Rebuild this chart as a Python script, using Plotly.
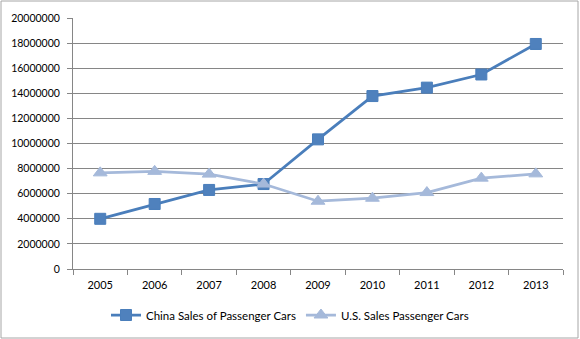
import plotly.graph_objects as go

years = ["2005", "2006", "2007", "2008", "2009", "2010", "2011", "2012", "2013"]
china_sales = [4000000, 5180000, 6300000, 6770000, 10330000, 13780000, 14450000, 15500000, 17930000]
us_sales = [7660000, 7780000, 7560000, 6770000, 5400000, 5640000, 6090000, 7240000, 7580000]
y_ticks = [0, 2000000, 4000000, 6000000, 8000000, 10000000, 12000000, 14000000, 16000000, 18000000, 20000000]

W, H = 580, 339
L, R, T, B = 73, 17, 18, 70
pw, ph = W - L - R, H - T - B

fig = go.Figure()
fig.add_trace(go.Scatter(
    x=years, y=china_sales, name="China Sales of Passenger Cars",
    mode="lines+markers",
    line=dict(color="#4A7EBB", width=2.75),
    marker=dict(symbol="square", size=11, color="#4F81BD", line=dict(color="#4A7EBB", width=1)),
))
fig.add_trace(go.Scatter(
    x=years, y=us_sales, name="U.S. Sales Passenger Cars",
    mode="lines+markers",
    line=dict(color="#A5B9DA", width=2.75),
    marker=dict(symbol="triangle-up", size=12, color="#A5B9DA", line=dict(color="#A5B9DA", width=1)),
))

def px_x(p):
    return (p - L) / pw

def px_y(p):
    return 1 - (p - T) / ph

fig.add_shape(type="rect", xref="paper", yref="paper",
              x0=px_x(1), x1=px_x(578), y0=px_y(338), y1=px_y(1),
              line=dict(color="#A6A6A6", width=1), fillcolor="rgba(0,0,0,0)", layer="below")

fig.update_layout(
    width=W, height=H,
    margin=dict(l=L, r=R, t=T, b=B, pad=0, autoexpand=False),
    paper_bgcolor="white", plot_bgcolor="white",
    font=dict(family="Lato, Open Sans, sans-serif", size=11, color="#000000"),
    showlegend=True,
    legend=dict(orientation="h", xref="container", yref="container",
                x=0.5, xanchor="center", y=1 - 315 / H, yanchor="middle",
                font=dict(size=11.5), itemwidth=30, tracegroupgap=0),
    xaxis=dict(
        type="category", categoryorder="array", categoryarray=years,
        showline=True, linecolor="#868686", linewidth=1,
        ticks="outside", tickson="boundaries", ticklen=5, tickcolor="#868686",
        showgrid=False, tickfont=dict(size=11), range=[-0.5, 8.5],
        ticklabelstandoff=6, automargin=False,
    ),
    yaxis=dict(
        range=[0, 20000000], tickvals=y_ticks,
        ticktext=[str(v) for v in y_ticks],
        showline=True, linecolor="#868686", linewidth=1,
        ticks="outside", ticklen=5, tickcolor="#868686",
        showgrid=True, gridcolor="#868686", gridwidth=1,
        zeroline=False, tickfont=dict(size=10.5),
        ticklabelstandoff=5, automargin=False,
    ),
)

fig.write_html("out.html")
